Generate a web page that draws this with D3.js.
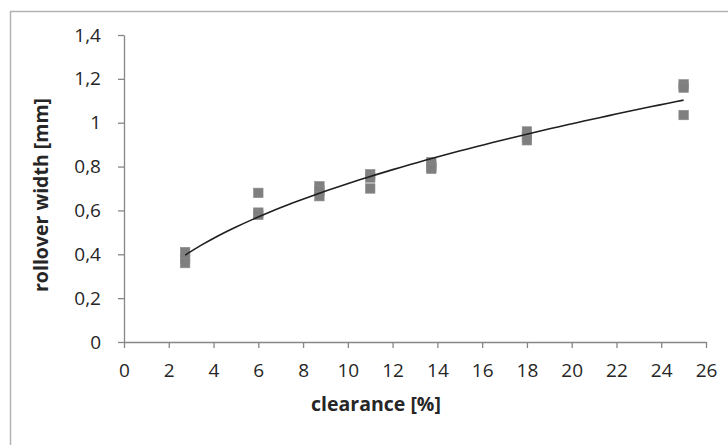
<!doctype html>
<html>
  <head>
    <meta charset="utf-8">
    <title>Rollover width vs clearance</title>
    <script src="https://cdnjs.cloudflare.com/ajax/libs/d3/7.8.5/d3.min.js"></script>
    <style>
      body { margin: 0; background: #fff; }
      text { font-family: "Open Sans", sans-serif; }
    </style>
  </head>
  <body>
    <div id="chart"></div>

    <script>
      // measured samples: clearance [%] and rollover width [mm]
      const clearance = [2.73, 2.73, 2.73, 6, 6, 6, 8.73, 8.73, 8.73, 11, 11, 11,
                         13.73, 13.73, 13.73, 18, 18, 18, 25, 25, 25];
      const rollover = [0.41, 0.38, 0.36, 0.68, 0.59, 0.58, 0.71, 0.69, 0.665,
                        0.765, 0.75, 0.70, 0.82, 0.80, 0.79, 0.96, 0.94, 0.92,
                        1.175, 1.16, 1.035];
      const xTicks = [0, 2, 4, 6, 8, 10, 12, 14, 16, 18, 20, 22, 24, 26];
      const yTicks = [0, 0.2, 0.4, 0.6, 0.8, 1, 1.2, 1.4];

      const width = 728, height = 445;
      const margin = {top: 35, right: 22, bottom: 103, left: 124};

      const svg = d3.select('#chart')
        .append('svg')
        .attr('width', width)
        .attr('height', height);

      // chart area frame (only top and left edges are inside the picture)
      svg.append('path')
        .attr('d', `M10.5,${height} V11.5 H${width}`)
        .attr('fill', 'none')
        .attr('stroke', '#b3b3b3')
        .attr('stroke-width', 1.5);

      const x = d3.scaleLinear().domain([0, 26]).range([margin.left, width - margin.right]);
      const y = d3.scaleLinear().domain([0, 1.4]).range([height - margin.bottom, margin.top]);

      const comma = d => String(d).replace('.', ',');

      const xAxis = svg.append('g')
        .attr('transform', `translate(0,${y(0)})`)
        .call(d3.axisBottom(x).tickValues(xTicks).tickSize(6).tickPadding(16).tickSizeOuter(0));

      const yAxis = svg.append('g')
        .attr('transform', `translate(${x(0)},0)`)
        .call(d3.axisLeft(y).tickValues(yTicks).tickFormat(comma).tickSize(6).tickPadding(17).tickSizeOuter(0));

      [xAxis, yAxis].forEach(g => {
        g.select('.domain').attr('stroke', '#868686').attr('stroke-width', 1.3);
        g.selectAll('.tick line').attr('stroke', '#868686').attr('stroke-width', 1.3);
        g.selectAll('.tick text')
          .attr('fill', '#262626')
          .style('font-size', '19px')
          .style('font-family', '"Open Sans", sans-serif');
      });

      // power trendline y = a * x^b, least squares in log-log space
      const lx = clearance.map(Math.log), ly = rollover.map(Math.log);
      const mx = d3.mean(lx), my = d3.mean(ly);
      const b = d3.sum(lx, (v, i) => (v - mx) * (ly[i] - my)) / d3.sum(lx, v => (v - mx) * (v - mx));
      const a = Math.exp(my - b * mx);
      const xs = d3.range(0, 61).map(i => d3.min(clearance) + i * (d3.max(clearance) - d3.min(clearance)) / 60);

      // markers
      const s = 9.5;
      svg.append('g')
        .selectAll('rect')
        .data(clearance.map((c, i) => [c, rollover[i]]))
        .join('rect')
        .attr('x', d => x(d[0]) - s / 2)
        .attr('y', d => y(d[1]) - s / 2)
        .attr('width', s)
        .attr('height', s)
        .attr('fill', '#7f7f7f')
        .attr('stroke', '#8c8c8c')
        .attr('stroke-width', 0.6);

      svg.append('path')
        .datum(xs)
        .attr('d', d3.line().x(d => x(d)).y(d => y(a * Math.pow(d, b))))
        .attr('fill', 'none')
        .attr('stroke', '#1f1f1f')
        .attr('stroke-width', 1.6);

      // axis titles
      svg.append('text')
        .attr('x', 376)
        .attr('y', 411)
        .attr('text-anchor', 'middle')
        .style('font-size', '19.5px')
        .style('font-weight', 'bold')
        .attr('fill', '#262626')
        .text('clearance [%]');

      svg.append('text')
        .attr('transform', 'translate(48,195) rotate(-90)')
        .attr('text-anchor', 'middle')
        .style('font-size', '19.5px')
        .style('font-weight', 'bold')
        .attr('fill', '#262626')
        .text('rollover width [mm]');
    </script>
  </body>
</html>
